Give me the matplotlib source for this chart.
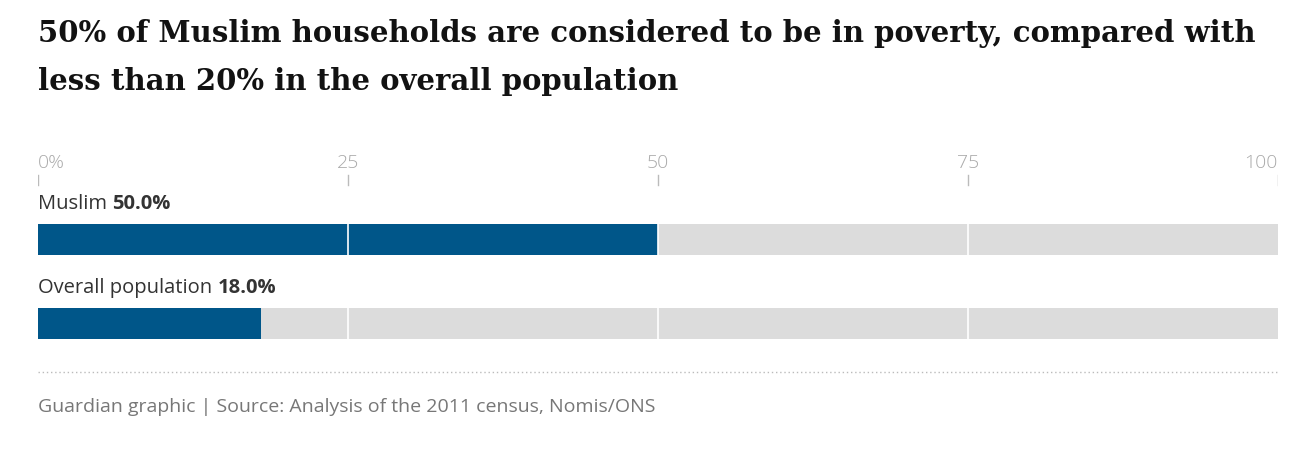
import matplotlib.pyplot as plt

categories = ["Muslim", "Overall population"]
values = [50.0, 18.0]
ticks = [0, 25, 50, 75, 100]
tick_labels = ["0%", "25", "50", "75", "100"]

W, H = 1306, 452
fig = plt.figure(figsize=(W / 100, H / 100), dpi=100)
fig.patch.set_facecolor("white")

# axes: x 38..1278 px, y 140..345 px (pixel units, inverted)
ax = fig.add_axes([38 / W, 1 - 345 / H, 1240 / W, 205 / H])
ax.set_xlim(0, 100)
ax.set_ylim(345, 140)
ax.axis("off")

sans = ["Open Sans", "DejaVu Sans"]
bar_centers = [240.5, 324.5]
label_y = [204, 288]
ax.barh(bar_centers, [100] * 2, height=31, color="#dcdcdc", zorder=1)
ax.barh(bar_centers, values, height=31, color="#005689", zorder=2)
for t in ticks[1:-1]:
    ax.plot([t, t], [225, 340], color="white", lw=1.2, zorder=3)
for t, lab in zip(ticks, tick_labels):
    ax.plot([t, t], [176, 186], color="#bbbbbb", lw=1, zorder=3)
    ha = "left" if t == 0 else ("right" if t == 100 else "center")
    ax.text(t, 163, lab, ha=ha, va="center", fontsize=14, color="#aaaaaa",
            family=sans, fontweight="light")
for cat, v, y in zip(categories, values, label_y):
    t = ax.text(0, y, cat + " ", ha="left", va="center", fontsize=14.5,
                color="#333333", family=sans)
    ax.annotate(f"{v:.1f}%", xycoords=t, xy=(1, 0.5), va="center",
                fontsize=14.5, fontweight="bold", color="#333333", family=sans)

fig.text(38 / W, 1 - 34 / H, "50% of Muslim households are considered to be in poverty, compared with",
         ha="left", va="center", fontsize=21, fontweight="bold", family="DejaVu Serif", color="#121212")
fig.text(38 / W, 1 - 81 / H, "less than 20% in the overall population",
         ha="left", va="center", fontsize=21, fontweight="bold", family="DejaVu Serif", color="#121212")
fig.add_artist(plt.Line2D([38 / W, 1278 / W], [1 - 373 / H] * 2, color="#bbbbbb",
                          lw=1, linestyle=(0, (1, 2))))
fig.text(38 / W, 1 - 407 / H, "Guardian graphic | Source: Analysis of the 2011 census, Nomis/ONS",
         ha="left", va="center", fontsize=14, color="#777777", family=sans)

fig.savefig("out.png", dpi=100)
